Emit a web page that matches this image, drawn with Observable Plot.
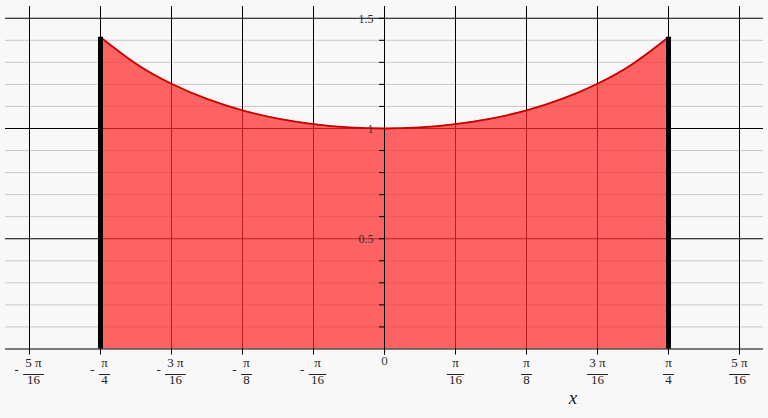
<!DOCTYPE html>
<html>
<head>
<meta charset="utf-8">
<script src="https://cdn.jsdelivr.net/npm/d3@7"></script>
<script src="https://cdn.jsdelivr.net/npm/@observablehq/plot@0.6"></script>
<style>
  html, body { margin: 0; padding: 0; background: #f8f8f8; }
</style>
</head>
<body>
<div id="chart"></div>
<script>
// ---- data ----
// x tick positions in units of π/16, with fraction labels
const xTicks = [-5, -4, -3, -2, -1, 0, 1, 2, 3, 4, 5];
const xNum   = ["5 π", "π", "3 π", "π", "π", "0", "π", "π", "3 π", "π", "5 π"];
const xDen   = ["16", "4", "16", "8", "16", "", "16", "8", "16", "4", "16"];

// curve samples: x in units of π/32, y values
const curveK   = [-8, -7, -6, -5, -4, -3, -2, -1, 0, 1, 2, 3, 4, 5, 6, 7, 8];
const curveVal = [1.414, 1.294, 1.203, 1.134, 1.082, 1.045, 1.020, 1.005, 1.000,
                  1.005, 1.020, 1.045, 1.082, 1.134, 1.203, 1.294, 1.414];

// horizontal grid / y ticks
const yGrid   = [0.1, 0.2, 0.3, 0.4, 0.5, 0.6, 0.7, 0.8, 0.9, 1.0, 1.1, 1.2, 1.3, 1.4, 1.5];
const yLabels = [0.5, 1, 1.5];
const xTitle  = "x";

// ---- build ----
const PI = Math.PI;
const curve = curveK.map((k, i) => ({x: k * PI / 32, y: curveVal[i]}));
const ticks = xTicks.map((v, i) => ({x: v * PI / 16, v, num: xNum[i], den: xDen[i]}));
const ends = [curve[0], curve[curve.length - 1]];
const isMajor = d => Math.abs(d * 2 - Math.round(d * 2)) < 1e-9;

const font = "'Liberation Serif', 'DejaVu Serif', serif";
const labelSize = 13;
const ctx = document.createElement("canvas").getContext("2d");
ctx.font = `${labelSize}px ${font}`;
const tw = s => ctx.measureText(s).width;

const barSymbol = {
  draw(context, size) {
    const r = Math.sqrt(size / Math.PI);
    context.moveTo(-r, 0);
    context.lineTo(r, 0);
  }
};

const W = 768, H = 418;
const mT = 6, mB = 69.5, mL = 5, mR = 5;
const pxPerUnit = 71 / (PI / 16);
const xHalf = (W / 2 - mL) / pxPerUnit;
const yTop = 1 + (128 - mT) / 220.5;

const labelMarks = [];
for (const t of ticks) {
  if (t.v === 0) {
    labelMarks.push(Plot.text([t], {x: "x", text: "num", frameAnchor: "bottom", dy: 15.5,
      fontSize: labelSize, fontFamily: font, fill: "#2a4a4a"}));
    continue;
  }
  const half = (Math.max(tw(t.num), tw(t.den)) + 4.5) / 2;
  const off = t.v < 0 ? 4 : 0;
  const common = {x: "x", frameAnchor: "bottom", fontSize: labelSize, fontFamily: font, fill: "#222", dx: off};
  labelMarks.push(Plot.text([t], {...common, text: "num", dy: 17.5}));
  labelMarks.push(Plot.text([t], {...common, text: "den", dy: 34.5}));
  labelMarks.push(Plot.dot([t], {x: "x", frameAnchor: "bottom", dy: 25.5, dx: off, r: half,
    symbol: barSymbol, stroke: "#222", fill: "none", strokeWidth: 1}));
  if (t.v < 0) {
    labelMarks.push(Plot.text([t], {x: "x", text: () => "-", frameAnchor: "bottom", dy: 24.5,
      dx: off - half - 6.5, fontSize: labelSize, fontFamily: font, fill: "#222"}));
  }
}

const chart = Plot.plot({
  width: W,
  height: H,
  marginTop: mT,
  marginBottom: mB,
  marginLeft: mL,
  marginRight: mR,
  style: {background: "#f8f8f8", overflow: "visible"},
  x: {domain: [-xHalf, xHalf], axis: null},
  y: {domain: [0, yTop], axis: null},
  marks: [
    // minor horizontal grid
    Plot.ruleY(yGrid.filter(d => !isMajor(d)), {y: d => d, stroke: "#c8c8c8", strokeWidth: 1}),
    // vertical grid (extends as ticks below the axis)
    Plot.ruleX(ticks, {x: "x", stroke: "#000", strokeWidth: 1, insetBottom: -6}),
    // major horizontal grid
    Plot.ruleY(yGrid.filter(isMajor), {y: d => d, stroke: "#000", strokeWidth: 1}),
    // filled area
    Plot.areaY(curve, {x: "x", y: "y", fill: "#ff2a2a", fillOpacity: 0.72, curve: "natural"}),
    // axes over area
    Plot.ruleY([0], {stroke: "#000", strokeWidth: 1}),
    Plot.ruleX([0], {stroke: "#000", strokeWidth: 1, insetBottom: -6}),
    Plot.ruleY(yGrid, {y: d => d, x1: 0, x2: 0, insetLeft: -5, stroke: "#000", strokeWidth: 1}),
    // curve
    Plot.lineY(curve, {x: "x", y: "y", stroke: "#c80000", strokeWidth: 1.8, curve: "natural"}),
    // boundary lines
    Plot.ruleX(ends, {x: "x", y1: 0, y2: "y", stroke: "#000", strokeWidth: 5}),
    // y labels
    Plot.text(yLabels, {x: 0, y: d => d, text: d => String(d), textAnchor: "end", dx: -11, dy: 0.5,
      fontSize: 12, fontFamily: font, fill: "#333"}),
    // x labels
    ...labelMarks,
    // axis title
    Plot.text([xTitle], {text: d => d, frameAnchor: "bottom", dx: 188.5, dy: 55,
      fontSize: 19, fontStyle: "italic", fontFamily: font, fill: "#222"})
  ]
});
document.getElementById("chart").appendChild(chart);
</script>
</body>
</html>
